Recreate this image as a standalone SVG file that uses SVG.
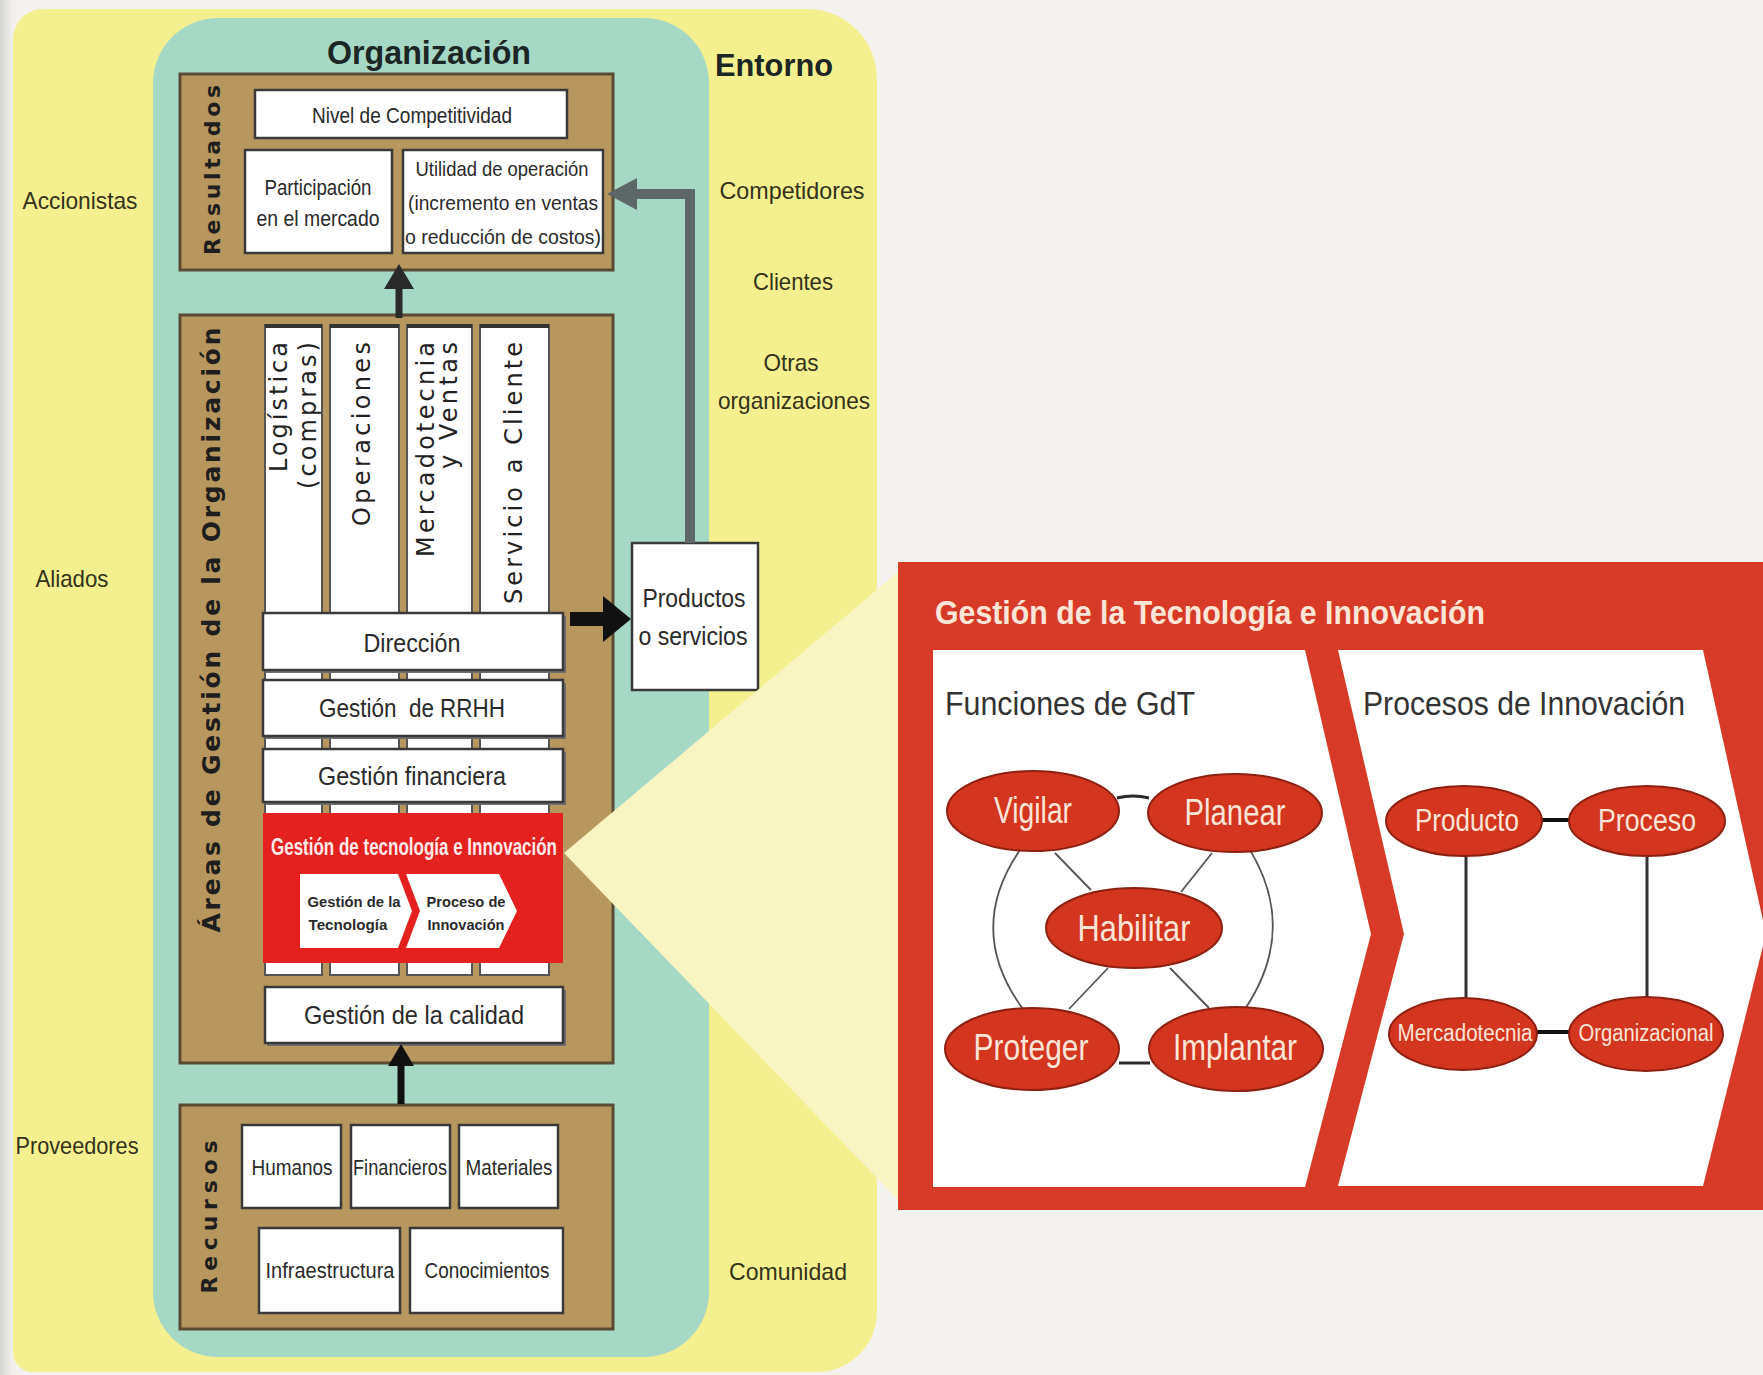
<svg xmlns="http://www.w3.org/2000/svg" width="1763" height="1375" viewBox="0 0 1763 1375">
<defs>
<style>
text{text-anchor:middle;dominant-baseline:central;}
.n{font-family:"Liberation Sans",Arial,sans-serif;fill:#2a2a2a;}
.env{font-family:"Liberation Sans",Arial,sans-serif;fill:#33321c;font-size:24px;}
.hb{font-family:"Liberation Sans",Arial,sans-serif;font-weight:bold;fill:#1c2624;}
.v{font-family:"DejaVu Sans",sans-serif;font-weight:bold;fill:#1e1e1e;}
.col{font-family:"DejaVu Sans",sans-serif;fill:#222;font-size:24px;}
.brown{fill:#b8975f;stroke:#5b4a33;stroke-width:3;}
.wbox{fill:#ffffff;stroke:#3a3a3a;stroke-width:2.5;}
.colr{fill:#ffffff;stroke:#555;stroke-width:2;}
.shadow{fill:#6e6e6e;}
.ell{fill:#d4351f;stroke:#8e2012;stroke-width:2;}
.et{font-family:"Liberation Sans",Arial,sans-serif;fill:#fbe4d8;}
.thin{fill:none;stroke:#555;stroke-width:1.8;}
.link{fill:none;stroke:#2a2a2a;stroke-width:3;}
</style>
<linearGradient id="edge" x1="0" y1="0" x2="1" y2="0">
<stop offset="0" stop-color="#d6d6d4"/>
<stop offset="1" stop-color="#f4f2ef"/>
</linearGradient>
</defs>

<rect x="0" y="0" width="1763" height="1375" fill="#f4f2ef"/>
<rect x="0" y="0" width="14" height="1375" fill="url(#edge)"/>

<g id="entorno">
<path d="M43,9 H807 A70,70 0 0 1 877,79 V1312 A60,60 0 0 1 817,1372 H33 A20,20 0 0 1 13,1352 V39 A30,30 0 0 1 43,9 Z" fill="#f5f08f"/>
<text class="hb" x="774" y="65" font-size="32" textLength="118" lengthAdjust="spacingAndGlyphs">Entorno</text>
<text class="env" x="80" y="200" textLength="115" lengthAdjust="spacingAndGlyphs">Accionistas</text>
<text class="env" x="72" y="578" textLength="73" lengthAdjust="spacingAndGlyphs">Aliados</text>
<text class="env" x="77" y="1145" textLength="123" lengthAdjust="spacingAndGlyphs">Proveedores</text>
<text class="env" x="792" y="190" textLength="145" lengthAdjust="spacingAndGlyphs">Competidores</text>
<text class="env" x="793" y="281" textLength="80" lengthAdjust="spacingAndGlyphs">Clientes</text>
<text class="env" x="791" y="362" textLength="55" lengthAdjust="spacingAndGlyphs">Otras</text>
<text class="env" x="794" y="400" textLength="152" lengthAdjust="spacingAndGlyphs">organizaciones</text>
<text class="env" x="788" y="1271" textLength="118" lengthAdjust="spacingAndGlyphs">Comunidad</text>
</g>

<g id="organizacion">
<rect x="153" y="18" width="556" height="1339" rx="65" fill="#a6d8c6"/>
<text class="hb" x="429" y="52" font-size="33" textLength="204" lengthAdjust="spacingAndGlyphs">Organización</text>
</g>

<g id="resultados">
<rect class="brown" x="180" y="74" width="433" height="196"/>
<text class="v" font-size="22" transform="translate(212,170) rotate(-90)" textLength="170" lengthAdjust="spacing">Resultados</text>
<rect class="wbox" x="255" y="90" width="312" height="48"/>
<text class="n" x="412" y="115" font-size="22" textLength="200" lengthAdjust="spacingAndGlyphs">Nivel de Competitividad</text>
<rect class="wbox" x="245" y="150" width="147" height="103"/>
<text class="n" x="318" y="187" font-size="22" textLength="107" lengthAdjust="spacingAndGlyphs">Participación</text>
<text class="n" x="318" y="218" font-size="22" textLength="123" lengthAdjust="spacingAndGlyphs">en el mercado</text>
<rect class="wbox" x="403" y="150" width="200" height="103"/>
<text class="n" x="502" y="168" font-size="21" textLength="173" lengthAdjust="spacingAndGlyphs">Utilidad de operación</text>
<text class="n" x="503" y="202" font-size="21" textLength="190" lengthAdjust="spacingAndGlyphs">(incremento en ventas</text>
<text class="n" x="503" y="236" font-size="21" textLength="196" lengthAdjust="spacingAndGlyphs">o reducción de costos)</text>
</g>

<g id="areas">
<rect class="brown" x="180" y="315" width="433" height="748"/>
<text class="v" font-size="25" transform="translate(211,630) rotate(-90)" textLength="605" lengthAdjust="spacing">Áreas de Gestión de la Organización</text>
<rect class="colr" x="265" y="325" width="57" height="650"/>
<rect class="colr" x="330" y="325" width="69" height="650"/>
<rect class="colr" x="407" y="325" width="65" height="650"/>
<rect class="colr" x="480" y="325" width="69" height="650"/>
<g stroke="#333" stroke-width="4">
<line x1="265" y1="326" x2="322" y2="326"/>
<line x1="330" y1="326" x2="399" y2="326"/>
<line x1="407" y1="326" x2="472" y2="326"/>
<line x1="480" y1="326" x2="549" y2="326"/>
</g>
<text class="col" transform="translate(279,342) rotate(-90)" style="text-anchor:end" textLength="130" lengthAdjust="spacing">Logística</text>
<text class="col" transform="translate(308,342) rotate(-90)" style="text-anchor:end" textLength="147" lengthAdjust="spacing">(compras)</text>
<text class="col" transform="translate(362,342) rotate(-90)" style="text-anchor:end" textLength="184" lengthAdjust="spacing">Operaciones</text>
<text class="col" transform="translate(426,342) rotate(-90)" style="text-anchor:end" textLength="215" lengthAdjust="spacing">Mercadotecnia</text>
<text class="col" transform="translate(449,342) rotate(-90)" style="text-anchor:end" textLength="127" lengthAdjust="spacing">y Ventas</text>
<text class="col" transform="translate(514,342) rotate(-90)" style="text-anchor:end" textLength="262" lengthAdjust="spacing">Servicio a Cliente</text>

<rect class="shadow" x="265" y="616" width="301" height="57"/>
<rect class="wbox" x="263" y="613" width="300" height="57"/>
<text class="n" x="412" y="643" font-size="26" textLength="97" lengthAdjust="spacingAndGlyphs">Dirección</text>

<rect class="shadow" x="265" y="683" width="301" height="56"/>
<rect class="wbox" x="263" y="680" width="300" height="56"/>
<text class="n" x="412" y="708" font-size="26" textLength="186" lengthAdjust="spacingAndGlyphs">Gestión&#160; de RRHH</text>

<rect class="shadow" x="265" y="752" width="301" height="53"/>
<rect class="wbox" x="263" y="749" width="300" height="53"/>
<text class="n" x="412" y="776" font-size="26" textLength="188" lengthAdjust="spacingAndGlyphs">Gestión financiera</text>

<g id="gti">
<rect x="263" y="813" width="300" height="150" fill="#e4211e"/>
<text class="n" x="414" y="847" font-size="23" font-weight="bold" style="fill:#ffeaea" textLength="286" lengthAdjust="spacingAndGlyphs">Gestión de tecnología e Innovación</text>
<polygon points="300,874 398,874 412,911 398,948 300,948" fill="#ffffff"/>
<polygon points="406,874 499,874 517,911 499,948 406,948 420,911" fill="#ffffff"/>
<text class="n" x="354" y="902" font-size="14" font-weight="bold" textLength="93" lengthAdjust="spacingAndGlyphs">Gestión de la</text>
<text class="n" x="348" y="925" font-size="14" font-weight="bold" textLength="79" lengthAdjust="spacingAndGlyphs">Tecnología</text>
<text class="n" x="466" y="902" font-size="14" font-weight="bold" textLength="79" lengthAdjust="spacingAndGlyphs">Proceso de</text>
<text class="n" x="466" y="925" font-size="14" font-weight="bold" textLength="77" lengthAdjust="spacingAndGlyphs">Innovación</text>
</g>

<rect class="shadow" x="267" y="990" width="299" height="56"/>
<rect class="wbox" x="265" y="987" width="298" height="56"/>
<text class="n" x="414" y="1015" font-size="26" textLength="220" lengthAdjust="spacingAndGlyphs">Gestión de la calidad</text>
</g>

<g id="recursos">
<rect class="brown" x="180" y="1105" width="433" height="224"/>
<text class="v" font-size="22" transform="translate(209,1217) rotate(-90)" textLength="153" lengthAdjust="spacing">Recursos</text>
<rect class="wbox" x="242" y="1125" width="99" height="83"/>
<text class="n" x="292" y="1167" font-size="22" textLength="81" lengthAdjust="spacingAndGlyphs">Humanos</text>
<rect class="wbox" x="351" y="1125" width="99" height="83"/>
<text class="n" x="400" y="1167" font-size="22" textLength="94" lengthAdjust="spacingAndGlyphs">Financieros</text>
<rect class="wbox" x="459" y="1125" width="99" height="83"/>
<text class="n" x="509" y="1167" font-size="22" textLength="87" lengthAdjust="spacingAndGlyphs">Materiales</text>
<rect class="wbox" x="259" y="1228" width="141" height="85"/>
<text class="n" x="330" y="1270" font-size="22" textLength="129" lengthAdjust="spacingAndGlyphs">Infraestructura</text>
<rect class="wbox" x="410" y="1228" width="153" height="85"/>
<text class="n" x="487" y="1270" font-size="22" textLength="125" lengthAdjust="spacingAndGlyphs">Conocimientos</text>
</g>

<g id="productos">
<rect class="wbox" x="632" y="543" width="126" height="147"/>
<text class="n" x="694" y="598" font-size="26" textLength="103" lengthAdjust="spacingAndGlyphs">Productos</text>
<text class="n" x="693" y="636" font-size="26" textLength="109" lengthAdjust="spacingAndGlyphs">o servicios</text>
</g>

<g id="connectors">
<line x1="399" y1="318" x2="399" y2="285" stroke="#2a2a2a" stroke-width="7"/>
<polygon points="384,289 399,264 414,289" fill="#2a2a2a"/>
<line x1="401" y1="1104" x2="401" y2="1062" stroke="#111" stroke-width="7"/>
<polygon points="388,1066 401,1044 414,1066" fill="#111"/>
<rect x="570" y="612" width="36" height="14" fill="#111"/>
<polygon points="603,596 631,619 603,642" fill="#111"/>
<polyline points="690,543 690,194 634,194" fill="none" stroke="#5d6768" stroke-width="10"/>
<polygon points="637,178 607,194 637,210" fill="#5d6768"/>
</g>

<g id="zoom-projection">
<polygon points="564,853 898,572 898,1200" fill="#f8f5c3"/>
</g>

<g id="panel-gti">
<rect x="898" y="562" width="870" height="648" fill="#d83a28"/>
<text class="hb" x="1210" y="612" font-size="34" style="fill:#fde6d8" textLength="550" lengthAdjust="spacingAndGlyphs">Gestión de la Tecnología e Innovación</text>
<polygon points="933,650 1305,650 1371,934 1305,1187 933,1187" fill="#ffffff"/>
<polygon points="1338,650 1703,650 1766,934 1703,1186 1338,1186 1404,934" fill="#ffffff"/>
<text class="n" x="1070" y="703" font-size="34" style="fill:#333" textLength="250" lengthAdjust="spacingAndGlyphs">Funciones de GdT</text>
<text class="n" x="1524" y="703" font-size="34" style="fill:#333" textLength="322" lengthAdjust="spacingAndGlyphs">Procesos de Innovación</text>
</g>

<g id="connectors-gti">
<path class="thin" d="M1020,850 Q965,930 1023,1009"/>
<path class="thin" d="M1250,850 Q1298,930 1245,1009"/>
<path class="link" d="M1117,798 Q1133,794 1149,798"/>
<line class="link" x1="1119" y1="1063" x2="1150" y2="1063"/>
<line class="thin" x1="1055" y1="853" x2="1091" y2="890"/>
<line class="thin" x1="1212" y1="853" x2="1181" y2="892"/>
<line class="thin" x1="1108" y1="968" x2="1069" y2="1009"/>
<line class="thin" x1="1170" y1="968" x2="1209" y2="1008"/>
<line x1="1540" y1="820" x2="1572" y2="820" stroke="#111" stroke-width="4"/>
<line x1="1535" y1="1032" x2="1572" y2="1032" stroke="#111" stroke-width="4"/>
<line x1="1466" y1="855" x2="1466" y2="1000" stroke="#333" stroke-width="3"/>
<line x1="1647" y1="855" x2="1647" y2="997" stroke="#333" stroke-width="3"/>
</g>

<g id="vigilar"><ellipse class="ell" cx="1033" cy="811" rx="86" ry="40"/><text class="et" x="1033" y="810" font-size="36" textLength="78" lengthAdjust="spacingAndGlyphs">Vigilar</text></g>
<g id="planear"><ellipse class="ell" cx="1235" cy="813" rx="87" ry="39"/><text class="et" x="1235" y="812" font-size="36" textLength="101" lengthAdjust="spacingAndGlyphs">Planear</text></g>
<g id="habilitar"><ellipse class="ell" cx="1134" cy="928" rx="88" ry="40"/><text class="et" x="1134" y="928" font-size="36" textLength="113" lengthAdjust="spacingAndGlyphs">Habilitar</text></g>
<g id="proteger"><ellipse class="ell" cx="1032" cy="1049" rx="87" ry="41"/><text class="et" x="1031" y="1047" font-size="36" textLength="115" lengthAdjust="spacingAndGlyphs">Proteger</text></g>
<g id="implantar"><ellipse class="ell" cx="1236" cy="1049" rx="87" ry="42"/><text class="et" x="1235" y="1047" font-size="36" textLength="124" lengthAdjust="spacingAndGlyphs">Implantar</text></g>
<g id="producto"><ellipse class="ell" cx="1464" cy="821" rx="78" ry="35"/><text class="et" x="1467" y="820" font-size="31" textLength="104" lengthAdjust="spacingAndGlyphs">Producto</text></g>
<g id="proceso"><ellipse class="ell" cx="1647" cy="821" rx="78" ry="35"/><text class="et" x="1647" y="820" font-size="31" textLength="98" lengthAdjust="spacingAndGlyphs">Proceso</text></g>
<g id="mercadotecnia"><ellipse class="ell" cx="1463" cy="1034" rx="74" ry="36"/><text class="et" x="1465" y="1033" font-size="23" textLength="135" lengthAdjust="spacingAndGlyphs">Mercadotecnia</text></g>
<g id="organizacional"><ellipse class="ell" cx="1646" cy="1034" rx="77" ry="37"/><text class="et" x="1646" y="1033" font-size="23" textLength="135" lengthAdjust="spacingAndGlyphs">Organizacional</text></g>
</svg>
